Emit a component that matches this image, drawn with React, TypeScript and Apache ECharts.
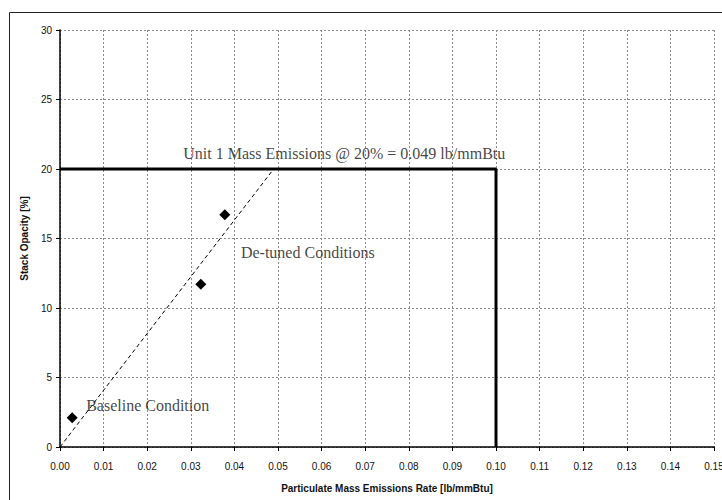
import React, { useEffect, useRef } from "react";
import * as echarts from "echarts";

const measuredPoints: [number, number][] = [
  [0.0028, 2.1],
  [0.0323, 11.7],
  [0.0378, 16.7],
];
const trendLine: [number, number][] = [
  [0, 0],
  [0.049, 20],
];
const limitBox: [number, number][] = [
  [0, 20],
  [0.1, 20],
  [0.1, 0],
];
const annotations: { value: [number, number]; text: string; align: string }[] = [
  { value: [0.0652, 21.1], text: "Unit 1 Mass Emissions @ 20% = 0.049 lb/mmBtu", align: "center" },
  { value: [0.0415, 14.0], text: "De-tuned Conditions", align: "left" },
  { value: [0.006, 3.0], text: "Baseline Condition", align: "left" },
];
const xTitle = "Particulate Mass Emissions Rate [lb/mmBtu]";
const yTitle = "Stack Opacity [%]";

export default function App() {
  const ref = useRef<HTMLDivElement>(null);
  useEffect(() => {
    if (!ref.current) return;
    const chart = echarts.init(ref.current, undefined, { renderer: "svg", width: 722, height: 500 });
    const sans = "Liberation Sans, Arial, sans-serif";
    const serif = "Liberation Serif, Times New Roman, serif";
    const gridLine = { show: true, lineStyle: { color: "#8a8a8a", type: [2, 2], width: 1 } };
    chart.setOption({
      animation: false,
      backgroundColor: "#ffffff",
      grid: { left: 60, right: 8, top: 30, bottom: 53, outerBoundsMode: "none", containLabel: false },
      graphic: [
        {
          type: "rect",
          shape: { x: 9.5, y: 12.5, width: 730, height: 520 },
          style: { fill: "none", stroke: "#222", lineWidth: 1 },
          silent: true,
        },
      ],
      xAxis: {
        type: "value",
        min: 0,
        max: 0.15,
        interval: 0.01,
        name: xTitle,
        nameLocation: "middle",
        nameGap: 36,
        nameTextStyle: { fontFamily: sans, fontWeight: "bold", fontSize: 10, color: "#111" },
        axisLine: { lineStyle: { color: "#000", width: 1.5 } },
        axisTick: { show: true, length: 4, lineStyle: { color: "#000" } },
        axisLabel: {
          fontFamily: sans,
          fontSize: 10,
          color: "#111",
          margin: 14,
          formatter: (v: number) => v.toFixed(2),
        },
        splitLine: gridLine,
      },
      yAxis: {
        type: "value",
        min: 0,
        max: 30,
        interval: 5,
        name: yTitle,
        nameLocation: "middle",
        nameGap: 25,
        nameTextStyle: { fontFamily: sans, fontWeight: "bold", fontSize: 10, color: "#111" },
        axisLine: { show: true, lineStyle: { color: "#000", width: 1.5 } },
        axisTick: { show: true, length: 4, lineStyle: { color: "#000" } },
        axisLabel: { fontFamily: sans, fontSize: 10, color: "#111", margin: 8 },
        splitLine: gridLine,
      },
      series: [
        {
          type: "line",
          data: limitBox,
          symbol: "none",
          lineStyle: { color: "#000", width: 3 },
          silent: true,
        },
        {
          type: "line",
          data: trendLine,
          symbol: "none",
          lineStyle: { color: "#000", width: 1, type: [4, 3] },
          silent: true,
        },
        {
          type: "scatter",
          data: measuredPoints,
          symbol: "diamond",
          symbolSize: 11,
          itemStyle: { color: "#000", opacity: 1 },
        },
        {
          type: "scatter",
          symbolSize: 0,
          silent: true,
          data: annotations.map((a) => ({
            value: a.value,
            label: {
              show: true,
              position: "inside",
              formatter: a.text,
              align: a.align,
              verticalAlign: "middle",
              fontFamily: serif,
              fontSize: 16,
              color: "#111",
            },
          })),
        },
      ],
    });
    return () => chart.dispose();
  }, []);
  return (
    <div
      ref={ref}
      style={{ position: "fixed", left: 0, top: 0, width: 722, height: 500, background: "#fff" }}
    />
  );
}
